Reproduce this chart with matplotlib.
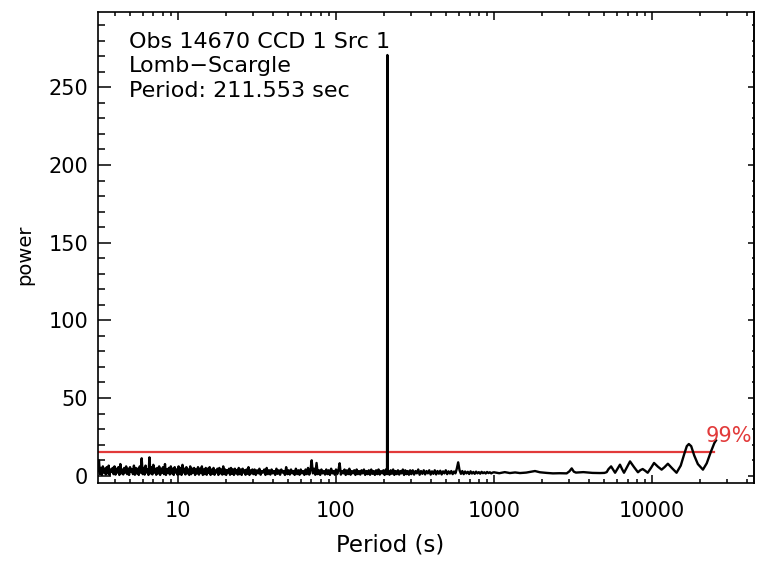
import matplotlib
matplotlib.use("Agg")
import matplotlib.pyplot as plt
from matplotlib.ticker import MultipleLocator, LogLocator, NullFormatter
import numpy as np

seg_a_range = (3.12, 30.0)
seg_a_power = [
    3, 9.8, 1, 5, 0.5, 6, 2, 4.5, 0.8, 5.5, 1.5, 6.5, 0.5, 4, 2.5, 5, 1, 6, 0.7, 4.5,
    2, 5.5, 0.5, 7.5, 1.5, 4, 0.8, 5, 2, 6, 1, 4.5, 0.5, 5.5, 2.5, 4, 1, 6.5, 0.6, 5,
    1.5, 4.5, 0.5, 6, 2, 11.2, 1, 5, 0.7, 6.5, 2, 4, 0.5, 11.8, 1.5, 5.5, 0.8, 7, 2, 4.5,
    0.6, 5, 1.5, 6, 0.5, 4.5, 2, 5.5, 1, 7.5, 0.5, 4, 2, 5, 0.8, 6, 1.5, 4.5, 0.5, 5.5,
    2, 4, 0.6, 6, 1, 5, 0.5, 7, 2, 4.5, 0.8, 5.5, 1.5, 4, 0.5, 6, 1, 4.5, 2, 5,
    0.5, 4, 1.5, 5.5, 0.7, 4.5, 2, 6, 0.5, 4, 1, 5, 0.6, 4.5, 1.8, 5.5, 0.5, 4, 1.2, 5,
    0.6, 3.5, 2, 4.5, 0.5, 5, 1.5, 4, 0.7, 6, 1, 4, 0.5, 3.5, 2, 4.5, 0.6, 5, 1.2, 4,
    0.5, 4.5, 1.5, 3.5, 0.7, 5, 1, 4, 0.5, 4.5, 2, 3.5, 0.6, 4, 1.2, 5.5, 0.5, 3.5, 1.5, 4,
]
seg_b_range = (30.0, 300.0)
seg_b_power = [
    1, 4, 0.5, 3.5, 1.5, 4.5, 0.6, 3, 2, 4, 0.5, 5, 1, 3.5, 0.7, 4, 1.5, 3, 0.5, 4.5,
    1.2, 3.5, 0.6, 4, 2, 3, 0.5, 5.5, 1, 3.5, 0.7, 4, 1.5, 3, 0.5, 4.5, 1, 3.5, 0.6, 4,
    1.5, 3, 0.5, 4, 1, 5, 0.7, 3.5, 9.9, 1.5, 4.5, 0.6, 8.2, 1, 3.5, 0.5, 4, 1.5, 3, 0.7,
    4, 1, 3.5, 0.5, 4.5, 1.5, 3, 0.6, 4, 1, 3.5, 8, 0.7, 3, 1.5, 4, 0.5, 3.5, 1, 4.5,
    0.6, 3, 1.5, 3.5, 0.5, 4, 1, 3, 0.7, 3.5, 1.5, 4, 0.5, 3, 1, 3.5, 0.6, 4, 1.2, 3,
    0.5, 3.5, 1, 4, 0.7, 3, 1.5, 3.5, 0.5, 4, 1, 3, 0.6, 3.5, 1.2, 4, 0.5, 3, 1, 3.5,
    0.7, 3, 1.5, 4, 0.5, 3.5, 1, 3, 0.6, 3.5,
]
seg_c_range = (300.0, 1000.0)
seg_c_power = [
    1, 3.5, 0.7, 3, 1.5, 4, 0.6, 3, 1.2, 3.5, 0.8, 3, 1.5, 3.5, 0.7, 2.8, 1.2, 3.5, 0.8, 3,
    1.3, 3.2, 0.8, 2.8, 1.5, 3.5, 1, 2.8, 1.4, 3, 1, 2.7, 1.5, 4.5, 8.6, 3.5, 1.2, 3, 1, 2.7,
    1.5, 2.5, 1.1, 2.8, 1.4, 2.4, 1.2, 2.6, 1.5, 2.3, 1.3, 2.5, 1.6, 2.2, 1.4, 2.4, 1.7, 2.2, 1.5, 2.0,
]

# the detected period
peak_period = [210.4, 211.553, 212.7]
peak_power = [1.5, 270.8, 1.5]

# smooth long-period part
long_period = [1000, 1080, 1170, 1260, 1360, 1460, 1600, 1817, 1954, 2150, 2361, 2600,
               2884, 3000, 3103, 3200, 3300, 3676, 4200, 4690, 5000, 5168, 5300, 5510,
               5680, 5840, 6050, 6270, 6460, 6650, 6950, 7260, 7700, 8150, 8450, 8730,
               9050, 9390, 9850, 10300, 10900, 11500, 12000, 12600, 13400, 14300, 15200,
               16000, 16600, 17100, 17700, 18500, 19500, 21000, 22200, 23500, 24800, 25400]
long_power = [2.2, 1.6, 2.3, 1.7, 2.1, 1.7, 2.0, 3.0, 2.2, 1.8, 1.5, 1.6,
              1.5, 2.8, 4.7, 2.6, 2.0, 2.3, 1.8, 1.7, 1.8, 2.3, 4.2, 6.0,
              3.8, 1.9, 4.5, 7.1, 4.3, 1.9, 5.5, 9.2, 5.5, 2.2, 3.6, 4.3,
              3.2, 1.9, 5.0, 8.2, 5.8, 3.9, 5.5, 7.7, 4.8, 1.9, 6.5,
              14, 19, 20.4, 19, 13, 7.5, 3.9, 8, 15, 21, 22.7]

sig_level = 15.4
sig_end = 24600

obs_lines = ["Obs 14670 CCD 1 Src 1", "Lomb\u2212Scargle", "Period: 211.553 sec"]


def seg(rng, vals):
    return np.geomspace(rng[0], rng[1], len(vals), endpoint=False), np.array(vals, float)


parts = [seg(seg_a_range, seg_a_power), seg(seg_b_range, seg_b_power),
         seg(seg_c_range, seg_c_power),
         (np.array(peak_period, float), np.array(peak_power, float)),
         (np.array(long_period, float), np.array(long_power, float))]
period = np.concatenate([p[0] for p in parts])
power = np.concatenate([p[1] for p in parts])
order = np.argsort(period)
period, power = period[order], power[order]

W, H = 757, 561
fig = plt.figure(figsize=(W / 100, H / 100), dpi=100)
ax = fig.add_axes([98 / W, 1 - 483 / H, 656 / W, 471 / H])

red = "#e23a3a"
ax.plot([3.12, sig_end], [sig_level, sig_level], color=red, lw=1.6, zorder=2)
ax.plot(period, power, color="black", lw=1.7, zorder=3)

ax.set_xscale("log")
ax.set_xlim(3.12, 44200)
ax.set_ylim(-4.7, 298.5)
ax.set_xticks([10, 100, 1000, 10000])
ax.set_xticklabels(["10", "100", "1000", "10000"])
ax.xaxis.set_minor_locator(LogLocator(subs=np.arange(2, 10)))
ax.xaxis.set_minor_formatter(NullFormatter())
ax.set_yticks([0, 50, 100, 150, 200, 250])
ax.yaxis.set_minor_locator(MultipleLocator(10))

ax.tick_params(which="both", direction="in", top=True, right=False, width=1.1,
               labelsize=15, colors="black")
ax.tick_params(axis="x", which="major", length=6, pad=13)
ax.tick_params(axis="x", which="minor", length=3)
ax.tick_params(axis="y", which="major", length=9.5, pad=7)
ax.tick_params(axis="y", which="minor", length=5)

sec = ax.secondary_yaxis("right")
sec.set_yticks([0, 50, 100, 150, 200, 250])
sec.yaxis.set_minor_locator(MultipleLocator(10))
sec.tick_params(which="both", direction="in", labelright=False, width=1.1)
sec.tick_params(which="major", length=4.5)
sec.tick_params(which="minor", length=1.5)

for sp in list(ax.spines.values()) + list(sec.spines.values()):
    sp.set_linewidth(1.2)

ax.set_xlabel("Period (s)", fontsize=16.5)
ax.xaxis.set_label_coords((390 - 98) / 656, -(545 - 483) / 471)
ax.xaxis.label.set_va("center")
ax.set_ylabel("power", fontsize=14)
ax.yaxis.set_label_coords(-(98 - 25) / 656, (483 - 255) / 471)
ax.yaxis.label.set_va("center")

for i, s in enumerate(obs_lines):
    fig.text(129 / W, 1 - (42 + 24.5 * i) / H, s, fontsize=16, va="center", ha="left")

fig.text(706 / W, 1 - 436 / H, "99%", color=red, fontsize=15, va="center", ha="left")

fig.savefig("out.png", dpi=100)
